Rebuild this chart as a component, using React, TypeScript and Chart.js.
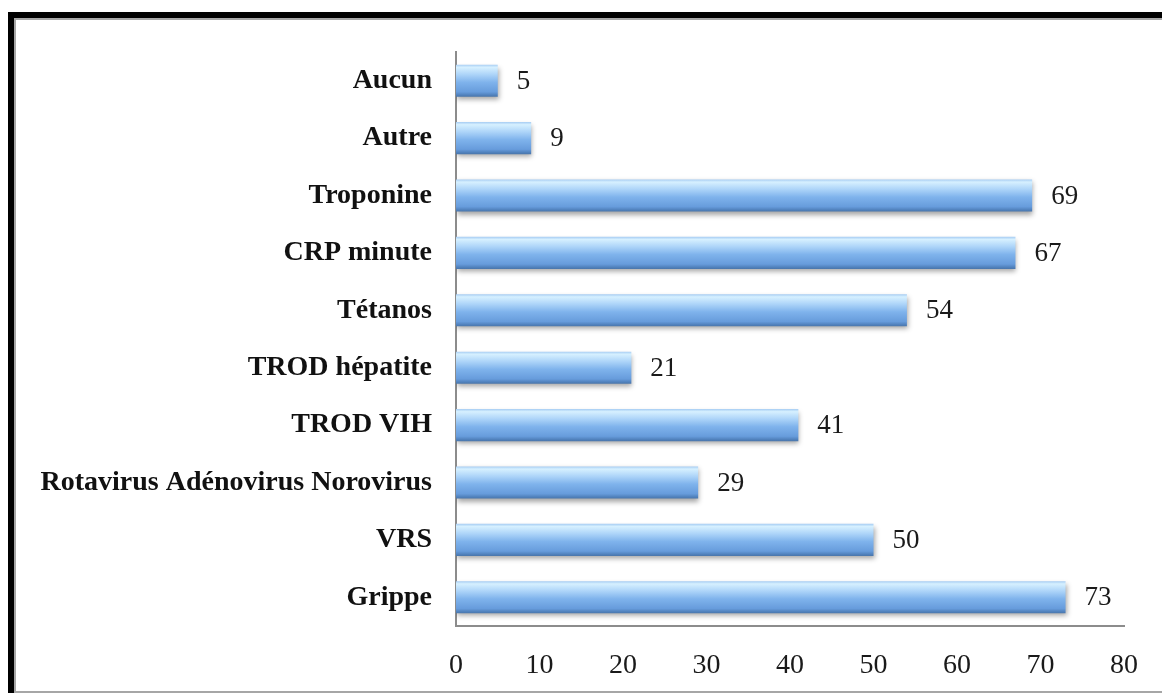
import React, { useEffect, useRef } from "react";
import { Chart, registerables } from "chart.js";

Chart.register(...registerables);

const categories = [
  "Aucun",
  "Autre",
  "Troponine",
  "CRP minute",
  "Tétanos",
  "TROD hépatite",
  "TROD VIH",
  "Rotavirus Adénovirus Norovirus",
  "VRS",
  "Grippe",
];
const values = [5, 9, 69, 67, 54, 21, 41, 29, 50, 73];
const xTicks = [0, 10, 20, 30, 40, 50, 60, 70, 80];

const FONT = "'Liberation Serif', serif";

const barShadow = {
  id: "barShadow",
  beforeDatasetsDraw(chart: any) {
    const ctx = chart.ctx;
    ctx.save();
    ctx.shadowColor = "rgba(0,0,0,0.35)";
    ctx.shadowBlur = 5;
    ctx.shadowOffsetX = 1;
    ctx.shadowOffsetY = 3;
  },
  afterDatasetsDraw(chart: any) {
    chart.ctx.restore();
  },
};

const valueLabels = {
  id: "valueLabels",
  afterDraw(chart: any) {
    const ctx = chart.ctx;
    const meta = chart.getDatasetMeta(0);
    ctx.save();
    ctx.font = `27px ${FONT}`;
    ctx.fillStyle = "#1a1a1a";
    ctx.textAlign = "left";
    ctx.textBaseline = "middle";
    meta.data.forEach((el: any, i: number) => {
      ctx.fillText(String(values[i]), el.x + 19, el.y + 1);
    });
    ctx.restore();
  },
};

export default function App() {
  const ref = useRef<HTMLCanvasElement>(null);
  useEffect(() => {
    const canvas = ref.current!;
    const chart = new Chart(canvas, {
      type: "bar",
      data: {
        labels: categories,
        datasets: [
          {
            data: values,
            backgroundColor: (c: any) => {
              const ch = c.chart;
              const y = ch.scales?.y;
              if (!y || c.dataIndex === undefined) return "#7fb2ea";
              const cy = y.getPixelForValue(c.dataIndex);
              if (!Number.isFinite(cy)) return "#7fb2ea";
              const h = 16;
              const g = ch.ctx.createLinearGradient(0, cy - h, 0, cy + h);
              g.addColorStop(0, "#a7cdf3");
              g.addColorStop(0.08, "#d6f0ff");
              g.addColorStop(0.3, "#aed5f9");
              g.addColorStop(0.55, "#7fb3ec");
              g.addColorStop(0.85, "#679cdc");
              g.addColorStop(0.95, "#5081bc");
              g.addColorStop(1, "#4a76ab");
              return g;
            },
            borderWidth: 0,
            barPercentage: 0.56,
            categoryPercentage: 1,
          },
        ],
      },
      options: {
        indexAxis: "y",
        animation: false,
        responsive: false,
        layout: { padding: { top: 52, right: 38, left: 0, bottom: 0 } },
        plugins: {
          legend: { display: false },
          tooltip: { enabled: false },
        },
        scales: {
          x: {
            min: 0,
            max: 80,
            afterBuildTicks: (s: any) => {
              s.ticks = xTicks.map((v) => ({ value: v }));
            },
            afterFit: (s: any) => {
              s.height = 67;
            },
            grid: { display: false, drawTicks: false },
            border: { display: true, color: "#8c8c8c", width: 2 },
            ticks: {
              padding: 23,
              color: "#1a1a1a",
              font: { family: FONT, size: 28 },
            },
          },
          y: {
            afterFit: (s: any) => {
              s.width = 456;
            },
            grid: { display: false, drawTicks: false },
            border: { display: true, color: "#8c8c8c", width: 2 },
            ticks: {
              padding: 24,
              color: "#111",
              font: { family: FONT, size: 28, weight: "bold" },
            },
          },
        },
      },
      plugins: [barShadow, valueLabels],
    });
    chart.update();
    return () => chart.destroy();
  }, []);

  return (
    <div style={{ position: "fixed", left: 0, top: 0, width: 1162, height: 693, background: "#fff", overflow: "hidden" }}>
      <div
        style={{
          position: "absolute",
          left: 8,
          top: 12,
          width: 1250,
          height: 687,
          boxSizing: "border-box",
          border: "6px solid #000",
        }}
      >
        <div
          style={{
            position: "absolute",
            inset: 0,
            border: "2px solid #a6a6a6",
          }}
        />
      </div>
      <canvas
        ref={ref}
        width={1162}
        height={693}
        style={{ position: "absolute", left: 0, top: 0, width: 1162, height: 693 }}
      />
    </div>
  );
}
